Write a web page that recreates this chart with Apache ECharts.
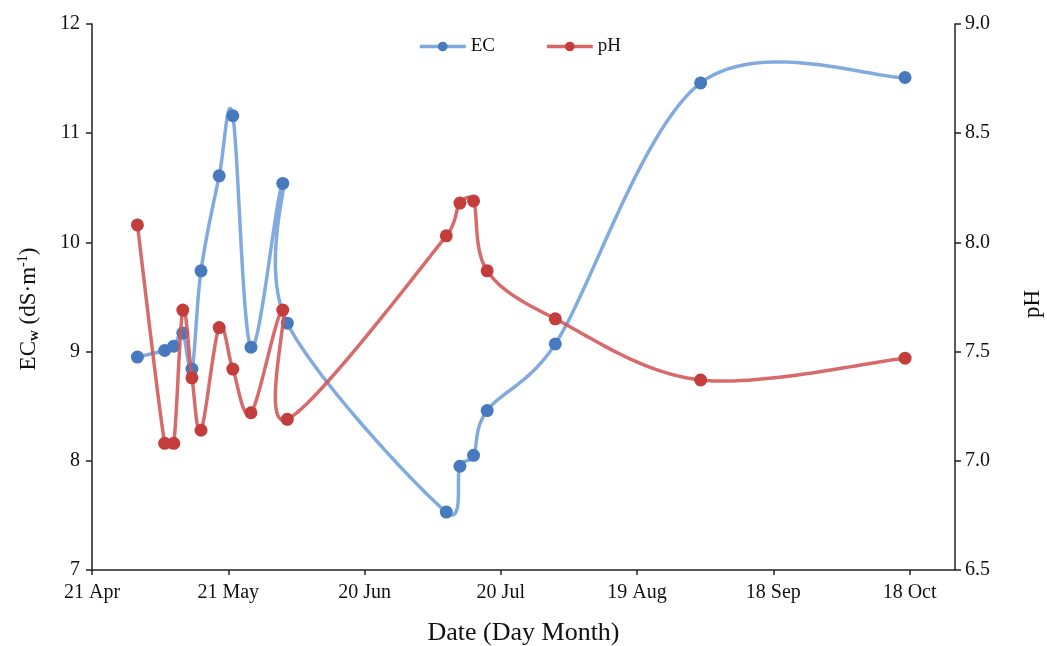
<!DOCTYPE html>
<html>
<head>
<meta charset="utf-8">
<script src="https://cdn.jsdelivr.net/npm/echarts@6/dist/echarts.min.js"></script>
<style>html,body{margin:0;padding:0;background:#fff}#c{width:1047px;height:646px}</style>
</head>
<body>
<div id="c"></div>
<script>
// ---- data ----
const startDate = '2014-04-21';
const dates = ['2014-05-01','2014-05-07','2014-05-09','2014-05-11','2014-05-13','2014-05-15','2014-05-19','2014-05-22','2014-05-26','2014-06-02','2014-06-03','2014-07-08','2014-07-11','2014-07-14','2014-07-17','2014-08-01','2014-09-02','2014-10-17'];
const ecValues = [8.95, 9.01, 9.05, 9.17, 8.84, 9.74, 10.61, 11.16, 9.04, 10.54, 9.26, 7.53, 7.95, 8.05, 8.46, 9.07, 11.46, 11.51];
const phValues = [8.08, 7.08, 7.08, 7.69, 7.38, 7.14, 7.61, 7.42, 7.22, 7.69, 7.19, 8.03, 8.18, 8.19, 7.87, 7.65, 7.37, 7.47];
const xTickLabels = ['21 Apr','21 May','20 Jun','20 Jul','19 Aug','18 Sep','18 Oct'];
const xTickDays = [0, 30, 60, 90, 120, 150, 180];

// ---- build ----
const day = d => (Date.parse(d) - Date.parse(startDate)) / 86400000;
const days = dates.map(day);
const ecData = days.map((d, i) => [d, ecValues[i]]);
const phData = days.map((d, i) => [d, phValues[i]]);

const serif = '"Liberation Serif", "Times New Roman", serif';
const axisCol = '#222';
const ecLine = '#6f9fd9', ecMark = '#4679be';
const phLine = '#d25555', phMark = '#c43d3d';

// Excel-like smoothed line (Bezier through the points, pixel positions from api.coord)
function capVec(v, maxLen) {
  const l = Math.hypot(v[0], v[1]);
  if (l > maxLen && l > 0) return [v[0] * maxLen / l, v[1] * maxLen / l];
  return v;
}
function smoothPoints(px) {
  const out = [];
  const n = px.length;
  for (let i = 0; i < n - 1; i++) {
    const p0 = px[i - 1] || px[i], p1 = px[i], p2 = px[i + 1], p3 = px[i + 2] || px[i + 1];
    const seg = Math.hypot(p2[0] - p1[0], p2[1] - p1[1]);
    const t1 = capVec([(p2[0] - p0[0]) / 6, (p2[1] - p0[1]) / 6], seg / 2);
    const t2 = capVec([(p3[0] - p1[0]) / 6, (p3[1] - p1[1]) / 6], seg / 2);
    const c1 = [p1[0] + t1[0], p1[1] + t1[1]];
    const c2 = [p2[0] - t2[0], p2[1] - t2[1]];
    const steps = 30;
    for (let s = (i === 0 ? 0 : 1); s <= steps; s++) {
      const t = s / steps, u = 1 - t;
      const a = u * u * u, b = 3 * u * u * t, c = 3 * u * t * t, d = t * t * t;
      out.push([a * p1[0] + b * c1[0] + c * c2[0] + d * p2[0], a * p1[1] + b * c1[1] + c * c2[1] + d * p2[1]]);
    }
  }
  return out;
}
function curveSeries(name, data, yIdx, color, z) {
  return {
    name: name, type: 'custom', yAxisIndex: yIdx, z: z, silent: true,
    data: [data[0]],
    renderItem: (params, api) => ({
      type: 'polyline',
      shape: { points: smoothPoints(data.map(p => api.coord(p))) },
      style: { fill: null, stroke: color, lineWidth: 3.5, opacity: 0.88, lineJoin: 'round', lineCap: 'round' }
    })
  };
}

const chart = echarts.init(document.getElementById('c'));
chart.setOption({
  animation: false,
  backgroundColor: '#fff',
  textStyle: { fontFamily: serif },
  legend: {
    top: 32, left: 413, itemGap: 50, itemWidth: 46, itemHeight: 12,
    textStyle: { fontFamily: serif, fontSize: 19, color: '#111' },
    lineStyle: { opacity: 0.9, width: 3.5 },
    data: ['EC', 'pH']
  },
  grid: { left: 92, right: 92, top: 24, bottom: 76, outerBoundsMode: 'none' },
  xAxis: {
    type: 'value', min: 0, max: 190, interval: 30,
    name: 'Date (Day Month)', nameLocation: 'middle', nameGap: 50,
    nameTextStyle: { fontFamily: serif, fontSize: 26, color: '#111' },
    axisLine: { show: true, lineStyle: { color: axisCol, width: 1.5 } },
    axisTick: { show: true, length: 5, inside: false, customValues: xTickDays, lineStyle: { color: axisCol, width: 1.5 } },
    axisLabel: {
      customValues: xTickDays, margin: 13,
      fontFamily: serif, fontSize: 20, color: '#111',
      formatter: v => xTickLabels[xTickDays.indexOf(Math.round(v))] || ''
    },
    splitLine: { show: false }
  },
  yAxis: [{
    type: 'value', min: 7, max: 12, interval: 1, position: 'left',
    name: '{a|EC}{s|w}{a| (dS·m}{p|-1}{a|)}', nameLocation: 'middle', nameGap: 50, nameRotate: 90,
    nameTextStyle: {
      padding: [0, 24, 0, 0],
      rich: {
        a: { fontFamily: serif, fontSize: 23, color: '#111', verticalAlign: 'middle', lineHeight: 26 },
        s: { fontFamily: serif, fontSize: 15, fontWeight: 'bold', color: '#111', verticalAlign: 'bottom', lineHeight: 26, padding: [8, 0, 0, 0] },
        p: { fontFamily: serif, fontSize: 14, color: '#111', verticalAlign: 'top', lineHeight: 26, padding: [0, 0, 8, 0] }
      }
    },
    axisLine: { show: true, lineStyle: { color: axisCol, width: 1.5 } },
    axisTick: { show: true, length: 6, lineStyle: { color: axisCol, width: 1.5 } },
    axisLabel: { fontFamily: serif, fontSize: 20, color: '#111', margin: 12 },
    splitLine: { show: false }
  }, {
    type: 'value', min: 6.5, max: 9, interval: 0.5, position: 'right',
    name: 'pH', nameLocation: 'middle', nameGap: 66, nameRotate: 90,
    nameTextStyle: { fontFamily: serif, fontSize: 23, color: '#111', padding: [0, 14, 0, 0] },
    axisLine: { show: true, lineStyle: { color: axisCol, width: 1.5 } },
    axisTick: { show: true, length: 6, lineStyle: { color: axisCol, width: 1.5 } },
    axisLabel: { fontFamily: serif, fontSize: 20, color: '#111', margin: 10, formatter: v => v.toFixed(1) },
    splitLine: { show: false }
  }],
  series: [
    curveSeries('EC curve', ecData, 0, ecLine, 2),
    {
      name: 'EC', type: 'line', yAxisIndex: 0, data: ecData,
      symbol: 'circle', symbolSize: 13,
      lineStyle: { color: ecLine, width: 3.5, opacity: 0 },
      itemStyle: { color: ecMark },
      z: 3
    },
    curveSeries('pH curve', phData, 1, phLine, 4),
    {
      name: 'pH', type: 'line', yAxisIndex: 1, data: phData,
      symbol: 'circle', symbolSize: 13,
      lineStyle: { color: phLine, width: 3.5, opacity: 0 },
      itemStyle: { color: phMark },
      z: 5
    }
  ]
});
</script>
</body>
</html>
